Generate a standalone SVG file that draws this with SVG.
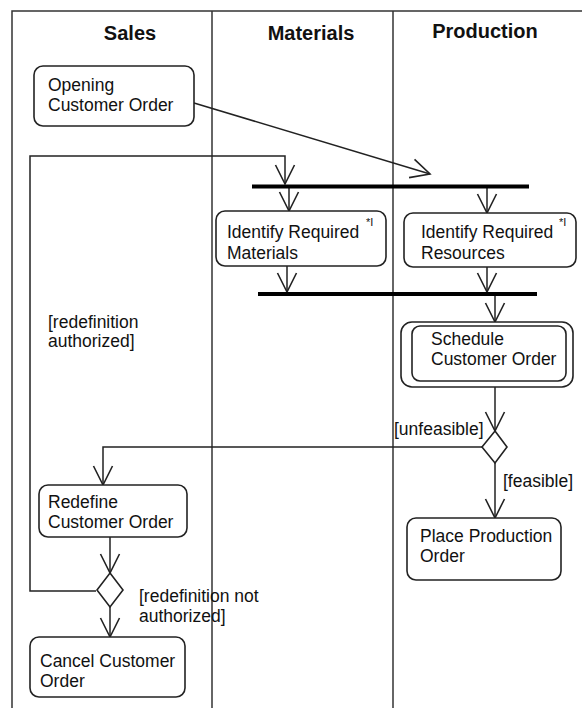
<svg xmlns="http://www.w3.org/2000/svg" width="582" height="708" viewBox="0 0 582 708">
<style>
  .lane{stroke:#333;stroke-width:1.5;fill:none}
  .box{fill:#fff;stroke:#222;stroke-width:1.6}
  .t{font-family:"Liberation Sans",Arial,sans-serif;font-size:17.5px;fill:#111}
  .h{font-family:"Liberation Sans",Arial,sans-serif;font-size:20px;font-weight:bold;fill:#111;text-anchor:middle}
  .sup{font-family:"Liberation Sans",Arial,sans-serif;font-size:11px;fill:#111}
  .c{fill:none;stroke:#222;stroke-width:1.5}
  .bar{stroke:#000;stroke-width:4}
</style>
<defs>
  <marker id="arr" markerUnits="userSpaceOnUse" markerWidth="24" markerHeight="24" viewBox="-21 -12 24 24" refX="0" refY="0" orient="auto">
    <path d="M-19,-9.5 L0,0 L-19,9.5" fill="none" stroke="#222" stroke-width="1.6"/>
  </marker>
</defs>
<rect width="582" height="708" fill="#fff"/>
<g id="frame">
  <path class="lane" d="M12,708 L12,11 L582,11"/>
  <line class="lane" x1="212" y1="11" x2="212" y2="708"/>
  <line class="lane" x1="393" y1="11" x2="393" y2="708"/>
  <text class="h" x="130" y="40">Sales</text>
  <text class="h" x="311" y="40">Materials</text>
  <text class="h" x="485" y="38">Production</text>
</g>
<g id="connectors">
  <path class="c" d="M194,103 L430,174" marker-end="url(#arr)"/>
  <path class="c" d="M96,591 L30,591 L30,156 L285,156 L285,184" marker-end="url(#arr)"/>
  <path class="c" d="M289,188 L289,211" marker-end="url(#arr)"/>
  <path class="c" d="M487,188 L487,213" marker-end="url(#arr)"/>
  <path class="c" d="M287,266 L287,292" marker-end="url(#arr)"/>
  <path class="c" d="M487,267 L487,292" marker-end="url(#arr)"/>
  <path class="c" d="M495,296 L495,322" marker-end="url(#arr)"/>
  <path class="c" d="M495,387 L495,431" marker-end="url(#arr)"/>
  <path class="c" d="M482,447 L103,447 L103,485" marker-end="url(#arr)"/>
  <path class="c" d="M495,463 L495,518" marker-end="url(#arr)"/>
  <path class="c" d="M110,537 L110,573" marker-end="url(#arr)"/>
  <path class="c" d="M110,607 L110,637" marker-end="url(#arr)"/>
  <text class="t" x="394" y="435">[unfeasible]</text>
  <text class="t" x="503" y="487">[feasible]</text>
  <text class="t" x="48" y="328">[redefinition</text>
  <text class="t" x="48" y="347">authorized]</text>
  <text class="t" x="139" y="602">[redefinition not</text>
  <text class="t" x="139" y="622">authorized]</text>
</g>
<g id="fork1"><line class="bar" x1="252" y1="186.5" x2="529" y2="186.5"/></g>
<g id="join1"><line class="bar" x1="258" y1="294" x2="537" y2="294"/></g>
<g id="opening">
  <rect class="box" x="34" y="66" width="160" height="60" rx="9"/>
  <text class="t" x="48" y="91">Opening</text>
  <text class="t" x="48" y="111">Customer Order</text>
</g>
<g id="materials">
  <rect class="box" x="216" y="211" width="170" height="55" rx="9"/>
  <text class="t" x="227" y="238">Identify Required</text>
  <text class="t" x="227" y="259">Materials</text>
  <text class="sup" x="366" y="226">*I</text>
</g>
<g id="resources">
  <rect class="box" x="404" y="213" width="172" height="54" rx="9"/>
  <text class="t" x="421" y="238">Identify Required</text>
  <text class="t" x="421" y="259">Resources</text>
  <text class="sup" x="559" y="226">*I</text>
</g>
<g id="schedule">
  <rect class="box" x="401" y="322" width="172" height="65" rx="11"/>
  <rect class="box" x="412" y="326" width="154" height="55" rx="8"/>
  <text class="t" x="431" y="345">Schedule</text>
  <text class="t" x="431" y="365">Customer Order</text>
</g>
<g id="decision1">
  <polygon class="box" points="495,431 507,447 495,463 482,447"/>
</g>
<g id="place">
  <rect class="box" x="407" y="518" width="154" height="62" rx="9"/>
  <text class="t" x="420" y="542">Place Production</text>
  <text class="t" x="420" y="562">Order</text>
</g>
<g id="redefine">
  <rect class="box" x="39" y="485" width="148" height="52" rx="9"/>
  <text class="t" x="48" y="508">Redefine</text>
  <text class="t" x="48" y="528">Customer Order</text>
</g>
<g id="decision2">
  <polygon class="box" points="110,573 123,590 110,607 97,590"/>
</g>
<g id="cancel">
  <rect class="box" x="30" y="637" width="155" height="60" rx="9"/>
  <text class="t" x="40" y="667">Cancel Customer</text>
  <text class="t" x="40" y="687">Order</text>
</g>
</svg>
